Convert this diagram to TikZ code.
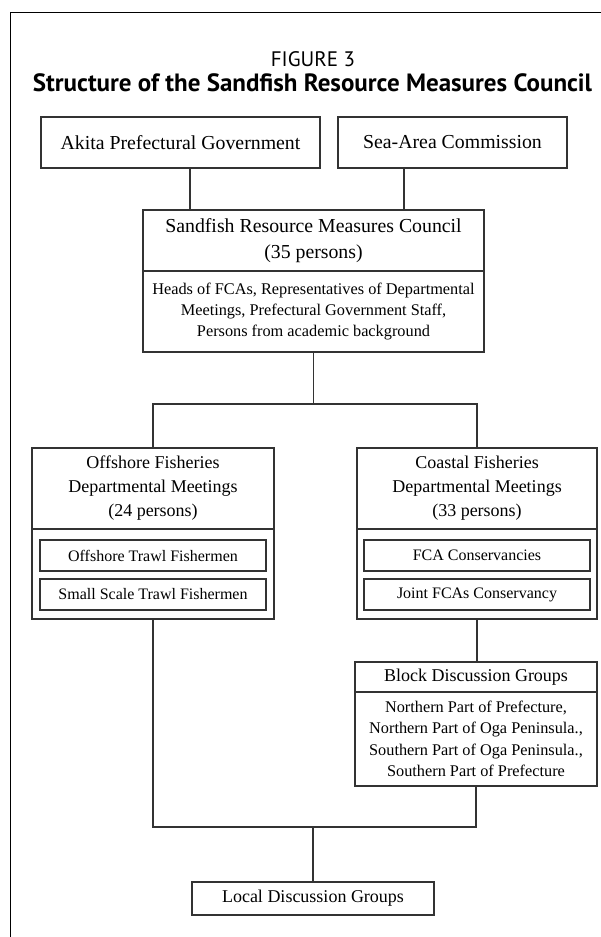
\documentclass[tikz,border=0pt]{standalone}
\usepackage{fontspec}
\setmainfont{Liberation Serif}
\newfontfamily\headfont{PT Sans}
\usetikzlibrary{positioning}

\begin{document}
\begin{tikzpicture}[x=1pt, y=-1pt, auto,
                    every node/.style={inner sep=0pt, outer sep=0pt},
                    main node/.style={draw=black!80, line width=1.2pt, align=center,
                                      font=\fontsize{19.8}{26}\selectfont},
                    dept node/.style={main node, font=\fontsize{18}{24}\selectfont},
                    sub node/.style={main node, font=\fontsize{16.3}{21.4}\selectfont},
                    link/.style={draw=black!80, line width=1.2pt}]
  \useasboundingbox (0,0) rectangle (601,937);
  \draw[line width=1pt] (10.7,937) -- (10.7,12) -- (601,12);
  \node[font=\headfont\fontsize{21}{24}\selectfont] (fig) at (313,59) {FIGURE 3};
  \node[font=\headfont\bfseries\fontsize{25}{28}\selectfont] (title) at (312.5,83)
    {Structure of the Sandfish Resource Measures Council};

  % top level
  \node[main node, minimum width=279pt, minimum height=51pt] (akita) at (180.5,142.5) {Akita Prefectural Government};
  \node[main node, minimum width=229pt, minimum height=51pt] (sea) at (452.5,142.5) {Sea-Area Commission};
  \node[main node, minimum width=341pt, minimum height=61pt] (council) at (313.5,240.5)
    {Sandfish Resource Measures Council\\(35 persons)};
  \node[sub node, minimum width=341pt, minimum height=81pt, below=0pt of council] (members)
    {Heads of FCAs, Representatives of Departmental\\Meetings, Prefectural Government Staff,\\Persons from academic background};

  % departmental meetings
  \node[dept node, minimum width=242pt, minimum height=81pt] (offshore) at (153,488.5)
    {Offshore Fisheries\\Departmental Meetings\\(24 persons)};
  \node[dept node, minimum width=242pt, minimum height=90pt, below=0pt of offshore] (offbody) {};
  \node[sub node, font=\fontsize{16}{20}\selectfont, minimum width=226pt, minimum height=31pt] (trawl) at (153,555.5) {Offshore Trawl Fishermen};
  \node[sub node, font=\fontsize{16}{20}\selectfont, minimum width=226pt, minimum height=31pt] (small) at (153,594.5) {Small Scale Trawl Fishermen};

  \node[dept node, minimum width=240pt, minimum height=81pt] (coastal) at (477,488.5)
    {Coastal Fisheries\\Departmental Meetings\\(33 persons)};
  \node[dept node, minimum width=240pt, minimum height=90pt, below=0pt of coastal] (coastbody) {};
  \node[sub node, font=\fontsize{16}{20}\selectfont, minimum width=226pt, minimum height=31pt] (fca) at (477,555.5) {FCA Conservancies};
  \node[sub node, font=\fontsize{16}{20}\selectfont, minimum width=226pt, minimum height=31pt] (joint) at (477,594.5) {Joint FCAs Conservancy};

  % groups
  \node[dept node, minimum width=242pt, minimum height=30pt] (block) at (476,677) {Block Discussion Groups};
  \node[sub node, minimum width=242pt, minimum height=94pt, below=0pt of block] (blockbody)
    {Northern Part of Prefecture,\\Northern Part of Oga Peninsula.,\\Southern Part of Oga Peninsula.,\\Southern Part of Prefecture};
  \node[dept node, minimum width=242pt, minimum height=33pt] (local) at (313,898.5) {Local Discussion Groups};

  % connectors
  \coordinate (a) at ([xshift=9.5pt]akita.south);
  \coordinate (s) at ([xshift=-48.5pt]sea.south);
  \draw[link] (a) -- (a |- council.north);
  \draw[link] (s) -- (s |- council.north);
  \draw[link] (members.south) -- ++(0,52) coordinate (fork);
  \draw[link] (offshore.north) |- (fork) -| (coastal.north);
  \draw[link] (coastbody.south) -- (coastbody.south |- block.north);
  \coordinate (join) at ([yshift=55pt]local.north);
  \draw[link] (offbody.south) |- (join) -| (blockbody.south);
  \draw[link] (join) -- (local.north);
\end{tikzpicture}
\end{document}
